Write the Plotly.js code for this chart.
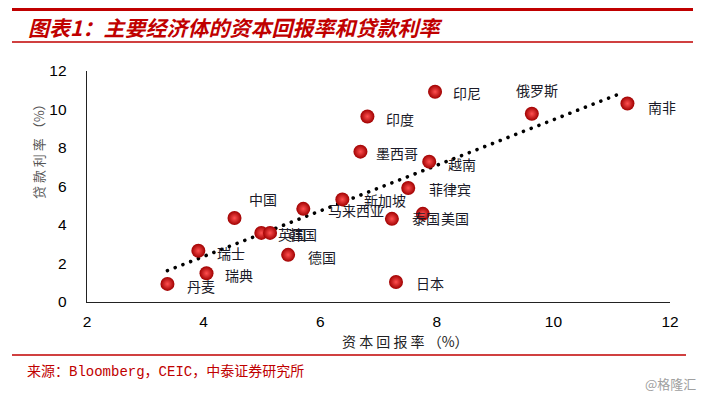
<!DOCTYPE html>
<html>
<head>
<meta charset="utf-8">
<script src="https://cdn.plot.ly/plotly-3.0.1.min.js"></script>
<style>html,body{margin:0;padding:0;background:#fff;}#chart{width:705px;height:398px;}</style>
</head>
<body>
<div id="chart"></div>
<script>
// ---- data ----
const countries = ['丹麦','瑞典','瑞士','中国','英国','韩国','德国','马来西亚','新加坡','墨西哥','印度','泰国','美国','菲律宾','越南','日本','印尼','俄罗斯','南非'];
const capitalReturn = [3.38,4.05,3.91,4.53,4.99,5.14,5.45,5.71,6.38,6.69,6.81,7.23,7.76,7.51,7.87,7.30,7.97,9.63,11.27];
const lendingRate   = [0.94,1.49,2.66,4.36,3.59,3.59,2.45,4.84,5.33,7.81,9.64,4.32,4.58,5.92,7.29,1.04,10.92,9.78,10.31];
const trendX = [3.38, 11.14];
const trendY = [1.63, 10.82];
const xTicks = [2,4,6,8,10,12];
const yTicks = [0,2,4,6,8,10,12];

// ---- label offsets (pixels, style only) ----
const labelDx = [34,32,33,28,31,33,34,53,43,37,33,34,32,42,33,34,32,5,35];
const labelDy = [2,2,2,-19,1,1,2,1,1,1,3,-1,4,1,2,1,1,-24,3];

const M = {l:87, r:35, t:71, b:96};
const W = 705, H = 398;
const pw = W - M.l - M.r, ph = H - M.t - M.b;
const px = v => (v - M.l) / pw;
const py = v => (H - M.b - v) / ph;

const RED = '#c00000';
const CJK = '"Noto Sans CJK SC", "Liberation Sans", sans-serif';

const traces = [
  {
    x: trendX, y: trendY, type: 'scatter', mode: 'lines',
    line: {color: '#000', width: 3.6, dash: '3px,5px'},
    hoverinfo: 'skip', showlegend: false
  },
  {
    x: capitalReturn, y: lendingRate, type: 'scatter', mode: 'markers',
    text: countries,
    marker: {size: 14, color: '#a00000', line: {width: 0},
             gradient: {type: 'radial', color: '#ff5050'}},
    showlegend: false
  }
];

const annotations = countries.map((c, i) => ({
  x: capitalReturn[i], y: lendingRate[i], xref: 'x', yref: 'y',
  text: c, showarrow: false, xanchor: 'center', yanchor: 'middle',
  xshift: labelDx[i], yshift: -labelDy[i],
  font: {family: CJK, size: 14, color: '#1a1a28'}
}));

annotations.push(
  {xref:'paper', yref:'paper', x: px(26), y: py(27), xanchor:'left', yanchor:'middle',
   text:'图表1：主要经济体的资本回报率和贷款利率', showarrow:false,
   font:{family: CJK, size: 21, color: RED, weight: 'bold', style: 'italic'}},
  {xref:'paper', yref:'paper', x: px(25), y: py(372), xanchor:'left', yanchor:'middle',
   text:'来源：Bloomberg，CEIC，中泰证券研究所', showarrow:false,
   font:{family: '"Liberation Mono", "Noto Sans CJK SC", monospace', size: 14, color: RED}},
  {xref:'paper', yref:'paper', x: px(698), y: py(383), xanchor:'right', yanchor:'middle',
   text:'@格隆汇', showarrow:false,
   font:{family: CJK, size: 13, color: '#a0a0a0'}},
  {xref:'paper', yref:'paper', x: px(405), y: py(341), xanchor:'center', yanchor:'middle',
   text:'资 本 回 报 率 （%）', showarrow:false, borderpad: 0,
   font:{family: CJK, size: 14, color: '#222'}},
  {xref:'paper', yref:'paper', x: px(38), y: py(148), xanchor:'center', yanchor:'middle',
   text:'贷 款 利 率 （%）', showarrow:false, textangle: -90,
   font:{family: CJK, size: 13, color: '#555'}}
);

const shapes = [
  {type:'line', xref:'paper', yref:'paper', x0: px(12), x1: px(693), y0: py(9.5), y1: py(9.5), line:{color: RED, width: 3}},
  {type:'line', xref:'paper', yref:'paper', x0: px(12), x1: px(693), y0: py(42), y1: py(42), line:{color: RED, width: 1.5}},
  {type:'line', xref:'paper', yref:'paper', x0: px(12), x1: px(686), y0: py(355), y1: py(355), line:{color: RED, width: 1.5}}
];

const layout = {
  width: W, height: H,
  margin: M,
  paper_bgcolor: '#fff', plot_bgcolor: '#fff',
  showlegend: false,
  xaxis: {
    range: [2, 12], tickvals: xTicks, ticktext: xTicks.map(String),
    showgrid: false, zeroline: false, showline: true, linecolor: '#222', linewidth: 1.3,
    ticks: '', ticklabelstandoff: 5,
    tickfont: {family: '"Liberation Sans", Arial, sans-serif', size: 15.5, color: '#000'}
  },
  yaxis: {
    range: [0, 12], tickvals: yTicks, ticktext: yTicks.map(String),
    showgrid: false, zeroline: false, showline: true, linecolor: '#222', linewidth: 1.3,
    ticks: '', ticklabelstandoff: 16,
    tickfont: {family: '"Liberation Sans", Arial, sans-serif', size: 15.5, color: '#000'}
  },
  annotations: annotations,
  shapes: shapes
};

Plotly.newPlot('chart', traces, layout, {displayModeBar: false, staticPlot: true}).then(gd => {
  const trend = gd.querySelector('.scatterlayer .trace path.js-line');
  if (trend) {
    trend.style.strokeLinecap = 'round';
    trend.style.strokeDasharray = '0.01px,8.3px';
  }
});
</script>
</body>
</html>
